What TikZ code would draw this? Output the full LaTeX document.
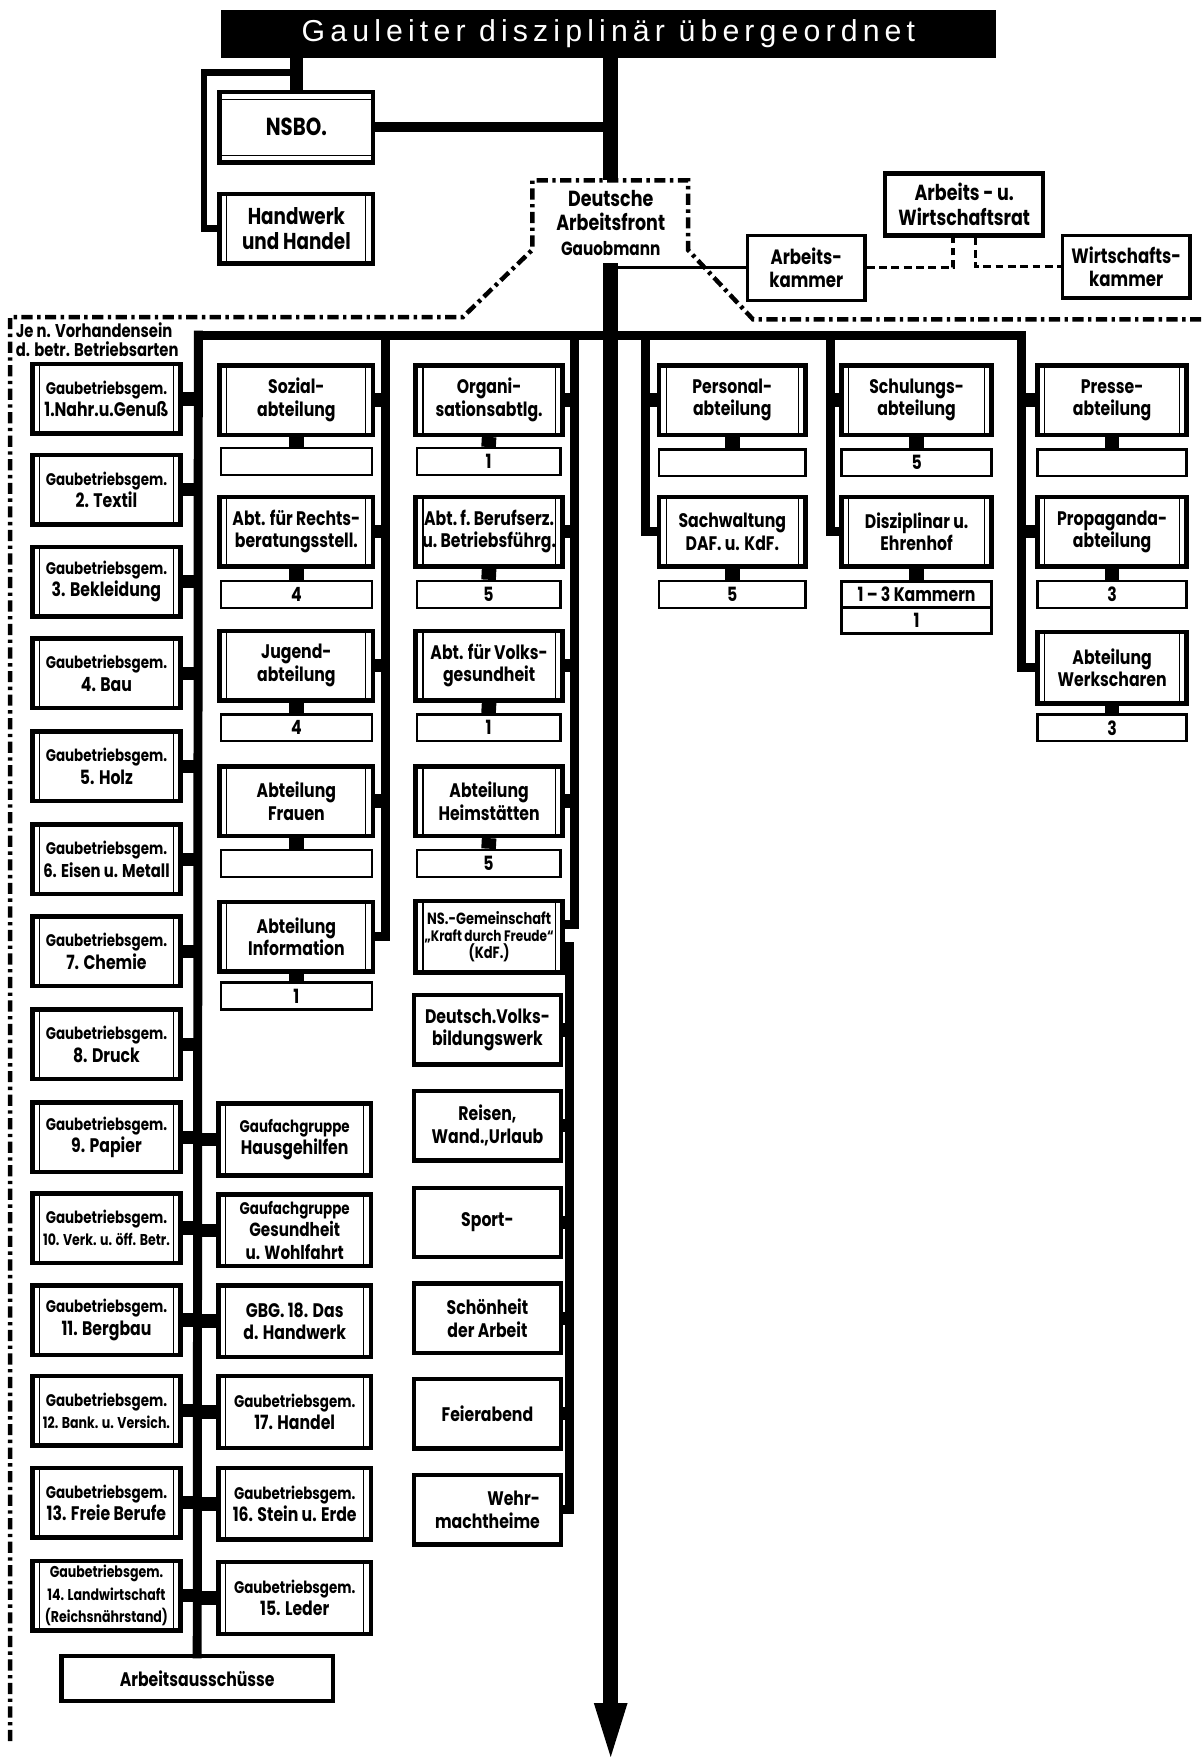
\documentclass[tikz,border=0pt]{standalone}
\usepackage{fontspec}
\setmainfont{Poppins}[FakeStretch=0.8]
\newfontfamily\titlefont{Liberation Sans}[LetterSpace=17]
\usetikzlibrary{calc}
\newcommand\fM{\bfseries\fontsize{17.5}{20}\selectfont}
\newcommand\fS{\bfseries\fontsize{15}{17}\selectfont}
\newcommand\fT{\bfseries\fontsize{14}{16}\selectfont}
\tikzset{
  sz/.style 2 args={minimum width=#1pt, minimum height=#2pt},
  fbox/.style={draw, line width=4pt, fill=white, inner sep=0pt, align=center, font=\fM,
    path picture={
      \draw[line width=1pt] ([xshift=6.5pt]path picture bounding box.north west) -- ([xshift=6.5pt]path picture bounding box.south west);
      \draw[line width=1pt] ([xshift=-6.5pt]path picture bounding box.north east) -- ([xshift=-6.5pt]path picture bounding box.south east);}},
  hbox/.style={draw, line width=4pt, fill=white, inner sep=0pt, align=center, font=\fM,
    path picture={
      \draw[line width=1pt] ([yshift=-6.5pt]path picture bounding box.north west) -- ([yshift=-6.5pt]path picture bounding box.north east);
      \draw[line width=1pt] ([yshift=6.5pt]path picture bounding box.south west) -- ([yshift=6.5pt]path picture bounding box.south east);}},
  pbox/.style={draw, line width=4pt, fill=white, inner sep=0pt, align=center, font=\fM},
  sbox/.style={draw, line width=2.2pt, fill=white, inner sep=0pt, minimum height=24pt, font=\fM},
  vline/.style={line width=8pt, line cap=rect},
  stub/.style={line width=12pt},
  dstub/.style={line width=13pt},
  mainline/.style={line width=13pt},
  dashdot/.style={line width=4pt, dash pattern=on 10pt off 4pt on 3pt off 4pt},
  dsh/.style={line width=3pt, dash pattern=on 7pt off 4pt},
}
\begin{document}
\begin{tikzpicture}[x=1pt,y=-1pt]
\useasboundingbox (0,0) rectangle (1072,1568);

% ---------- top ----------
\node[fill=black, sz={692}{43}, text=white, inner sep=0pt,
  font=\titlefont\fontsize{27}{27}\selectfont] (title) at (543,30) {Gauleiter disziplinär übergeordnet};
\node[hbox, sz={137}{63}, font=\bfseries\fontsize{22}{24}\selectfont] (nsbo) at (264.5,113.5) {NSBO.};
\node[fbox, sz={137}{62}, font=\bfseries\fontsize{20.5}{23}\selectfont] (hw) at (264.5,204) {Handwerk\\und Handel};
\node[align=center, inner sep=0pt, font=\bfseries\fontsize{19.5}{22}\selectfont] (daf) at (545,199)
  {Deutsche\\Arbeitsfront\\{\fontsize{17}{22}\selectfont Gauobmann}};
\node[pbox, sz={105}{58}, line width=3pt, font=\bfseries\fontsize{18.5}{21}\selectfont] (ak) at (719.5,239) {Arbeits-\\kammer};
\node[pbox, sz={141}{55}, font=\bfseries\fontsize{19.5}{22}\selectfont] (rat) at (860.5,182.5) {Arbeits - u.\\Wirtschaftsrat};
\node[pbox, sz={114}{56}, line width=3pt, font=\bfseries\fontsize{18.5}{21}\selectfont] (wk) at (1005,238) {Wirtschafts-\\kammer};

\coordinate (dTop) at (545,161);
\coordinate (dBot) at (545,235);
\coordinate (aEnd) at (545,1522);
\coordinate (tip) at (545,1568);
\coordinate (tipL) at (530,1520);
\coordinate (tipR) at (560,1520);
\coordinate (lt) at (265,65);
\coordinate (lb) at (182,65);

\draw[line width=12pt] (title.south -| nsbo.north) -- (nsbo.north);
\draw[line width=6pt] (lt) -- (lb) -- (lb |- hw.west) -- (hw.west);
\draw[line width=9pt] (nsbo.east) -- (nsbo.east -| dTop);
\draw[dashdot] (1072,285) -- (672,285) -- (614,223) -- (614,161) -- (475,161) -- (475,223) -- (413,283) -- (9,283) -- (9,1556);
\draw[mainline] (title.south -| dTop) -- (dTop);
\draw[mainline] (dBot) -- (aEnd);
\fill (tipL) -- (tipR) -- (tip) -- cycle;
\draw[line width=3pt] (ak.west -| dBot) -- (ak.west);
\draw[dsh] (ak.east) -| ([xshift=-10pt]rat.south);
\draw[dsh] ([xshift=10pt]rat.south) |- (wk.west);

\node[anchor=north west, inner sep=0pt, align=left, font=\bfseries\fontsize{16.5}{16.5}\selectfont] (je) at (14,288)
  {Je n. Vorhandensein\\d. betr. Betriebsarten};

% ---------- column coordinates ----------
\coordinate (vA) at (177,299);
\coordinate (vB) at (344,299);
\coordinate (vC) at (513,299);
\coordinate (vD) at (576,299);
\coordinate (vE) at (741,299);
\coordinate (vF) at (912,299);
\coordinate (vK) at (508,845);

% ---------- column A ----------
\tikzset{gb/.style={fbox, sz={132}{62}}}
\node[gb] (a1) at (95,356) {{\fS Gaubetriebsgem.}\\1.Nahr.u.Genuß};
\node[gb] (a2) at (95,437) {{\fS Gaubetriebsgem.}\\2. Textil};
\node[gb] (a3) at (95,519) {{\fS Gaubetriebsgem.}\\3. Bekleidung};
\node[gb] (a4) at (95,601) {{\fS Gaubetriebsgem.}\\4. Bau};
\node[gb] (a5) at (95,684) {{\fS Gaubetriebsgem.}\\5. Holz};
\node[gb] (a6) at (95,767) {{\fS Gaubetriebsgem.}\\{\bfseries\fontsize{16.5}{20}\selectfont 6. Eisen u. Metall}};
\node[gb] (a7) at (95,849) {{\fS Gaubetriebsgem.}\\7. Chemie};
\node[gb] (a8) at (95,932) {{\fS Gaubetriebsgem.}\\8. Druck};
\node[gb] (a9) at (95,1015) {{\fS Gaubetriebsgem.}\\9. Papier};
\node[gb] (a10) at (95,1096) {{\fS Gaubetriebsgem.}\\{\fT 10. Verk. u. öff. Betr.}};
\node[gb] (a11) at (95,1178) {{\fS Gaubetriebsgem.}\\11. Bergbau};
\node[gb] (a12) at (95,1259) {{\fS Gaubetriebsgem.}\\{\fT 12. Bank. u. Versich.}};
\node[gb] (a13) at (95,1341) {{\fS Gaubetriebsgem.}\\13. Freie Berufe};
\node[gb] (a14) at (95,1424) {{\fT Gaubetriebsgem.}\\{\fT 14. Landwirtschaft}\\{\fT (Reichsnährstand)}};
\node[pbox, sz={242}{40}] (aa) at (176,1498) {Arbeitsausschüsse};

\tikzset{gr/.style={fbox, sz={136}{64}}}
\node[gr] (g1) at (263,1017) {{\fS Gaufachgruppe}\\Hausgehilfen};
\node[gr] (g2) at (263,1098) {{\fS Gaufachgruppe}\\{\bfseries\fontsize{17}{17}\selectfont Gesundheit}\\{\bfseries\fontsize{17}{17}\selectfont u. Wohlfahrt}};
\node[gr] (g3) at (263,1179) {GBG. 18. Das\\d. Handwerk};
\node[gr] (g4) at (263,1260) {{\fS Gaubetriebsgem.}\\17. Handel};
\node[gr] (g5) at (263,1342) {{\fS Gaubetriebsgem.}\\16. Stein u. Erde};
\node[gr] (g6) at (263,1426) {{\fS Gaubetriebsgem.}\\15. Leder};

% ---------- column B ----------
\tikzset{bb/.style={fbox, sz={137}{62}}, bs/.style={sbox, minimum width=135pt}}
\node[bb] (b1) at (264.5,357) {Sozial-\\abteilung};
\node[bb] (b2) at (264.5,474.5) {Abt. für Rechts-\\beratungsstell.};
\node[bb] (b3) at (264.5,594) {Jugend-\\abteilung};
\node[bb] (b4) at (264.5,715) {Abteilung\\Frauen};
\node[bb] (b5) at (264.5,836) {Abteilung\\Information};
\node[bs] (bs1) at (264.5,412) {};
\node[bs] (bs2) at (264.5,530.5) {4};
\node[bs] (bs3) at (264.5,649.5) {4};
\node[bs] (bs4) at (264.5,770.5) {};
\node[bs] (bs5) at (264.5,889) {1};

% ---------- column C ----------
\tikzset{cb/.style={fbox, sz={131}{62}}, cs/.style={sbox, minimum width=128pt}, kb/.style={pbox, sz={131}{62}}}
\node[cb] (c1) at (436.5,357) {Organi-\\sationsabtlg.};
\node[cb] (c2) at (436.5,474.5) {Abt.\,f.\,Berufserz.\\u.\,Betriebsführg.};
\node[cb] (c3) at (436.5,594) {Abt. für Volks-\\gesundheit};
\node[cb] (c4) at (436.5,715) {Abteilung\\Heimstätten};
\node[cs] (cs1) at (436,412) {1};
\node[cs] (cs2) at (436,530.5) {5};
\node[cs] (cs3) at (436,649.5) {1};
\node[cs] (cs4) at (436,770.5) {5};
\node[cb, sz={131}{64}, font=\bfseries\fontsize{14.5}{15.5}\selectfont] (ns) at (436.5,836)
  {NS.-Gemeinschaft\\{\fontsize{13.5}{15.5}\selectfont „Kraft durch Freude“}\\(KdF.)};
\node[kb] (k1) at (435,919) {Deutsch.Volks-\\bildungswerk};
\node[kb] (k2) at (435,1004.5) {Reisen,\\Wand.,Urlaub};
\node[kb] (k3) at (435,1091) {Sport-};
\node[kb] (k4) at (435,1176.5) {Schönheit\\der Arbeit};
\node[kb] (k5) at (435,1261.5) {Feierabend};
\node[kb, align=right] (k6) at (435,1347.5) {Wehr-\\machtheime};

% ---------- columns D, E, F ----------
\tikzset{db/.style={fbox, sz={131}{62}}, ds/.style={sbox, minimum width=131pt}}
\node[db] (d1) at (653.5,357) {Personal-\\abteilung};
\node[db] (d2) at (653.5,474.5) {Sachwaltung\\DAF. u. KdF.};
\node[ds] (ds1) at (653.5,413) {};
\node[ds] (ds2) at (653.5,530.5) {5};

\node[db, minimum width=134pt] (e1) at (818,357) {Schulungs-\\abteilung};
\node[db, minimum width=134pt] (e2) at (818,474.5) {Disziplinar u.\\Ehrenhof};
\node[ds, minimum width=134pt] (es1) at (818,413) {5};
\node[ds, minimum width=134pt, minimum height=23pt] (es2) at (818,530.5) {1\,–\,3 Kammern};
\node[ds, minimum width=134pt, minimum height=23pt] (es3) at (818,554) {1};

\node[db, minimum width=133pt] (f1) at (992.5,357) {Presse-\\abteilung};
\node[db, minimum width=133pt] (f2) at (992.5,474.5) {Propaganda-\\abteilung};
\node[db, minimum width=133pt, minimum height=64pt] (f3) at (992.5,596) {Abteilung\\Werkscharen};
\node[ds, minimum width=133pt] (fs1) at (992.5,413) {};
\node[ds, minimum width=133pt] (fs2) at (992.5,530.5) {3};
\node[ds, minimum width=133pt] (fs3) at (992.5,649.5) {3};

% ---------- connectors ----------
\draw[vline] (vA) -- (vF);
\draw[vline] (vA) -- (aa.north);
\foreach \n in {a1,a2,a3,a4,a5,a6,a7,a8,a9,a10,a11,a12,a13,a14}
  \draw[stub] (\n.east) -- (\n.east -| vA);
\foreach \n in {g1,g2,g3,g4,g5,g6}
  \draw[stub] (\n.west -| vA) -- (\n.west);

\draw[vline] (vB) |- (b5.east);
\foreach \n in {b1,b2,b3,b4}
  \draw[stub] (\n.east) -- (\n.east -| vB);
\foreach \m/\s in {b1/bs1,b2/bs2,b3/bs3,b4/bs4,b5/bs5,c1/cs1,c2/cs2,c3/cs3,c4/cs4,d1/ds1,d2/ds2,e1/es1,e2/es2,f1/fs1,f2/fs2,f3/fs3}
  \draw[dstub] (\m.south) -- (\s.north);

\draw[vline] (vC) |- ([yshift=11pt]ns.east);
\foreach \n in {c1,c2,c3,c4}
  \draw[stub] (\n.east) -- (\n.east -| vC);
\draw[vline] ([yshift=-9pt]ns.east) -- (vK) -- (vK |- k6.east) -- (k6.east);
\foreach \n in {k1,k2,k3,k4,k5}
  \draw[stub] (\n.east) -- (\n.east -| vK);

\draw[vline] (vD) |- (d2.west);
\draw[stub] (d1.west -| vD) -- (d1.west);
\draw[vline] (vE) |- (e2.west);
\draw[stub] (e1.west -| vE) -- (e1.west);
\draw[vline] (vF) |- (f3.west);
\draw[stub] (f1.west -| vF) -- (f1.west);
\draw[stub] (f2.west -| vF) -- (f2.west);
\end{tikzpicture}
\end{document}
